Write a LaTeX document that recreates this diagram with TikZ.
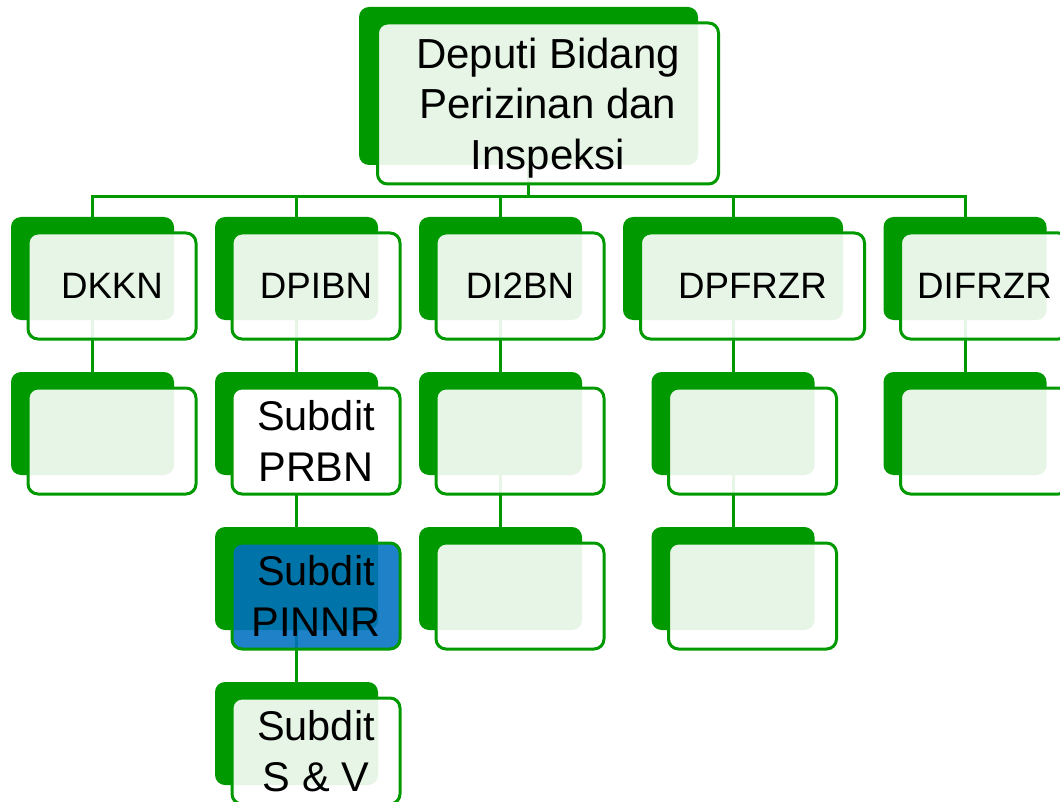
\documentclass[tikz,border=0pt]{standalone}
\usepackage{fontspec}
\setmainfont{Liberation Sans}
\usetikzlibrary{backgrounds}

\definecolor{orggreen}{RGB}{0,153,0}
\definecolor{orgblue}{RGB}{0,112,192}

\newcommand\lblTop{\fontsize{42}{50.5}\selectfont}
\newcommand\lblRow{\fontsize{36.7}{44}\selectfont}
\newcommand\lblSub{\fontsize{41.5}{50.5}\selectfont}

% one unit = solid back card + translucent front card carrying the label
% #1 back-card options, #2 front-card options, #3 name, (#4,#5) back centre, #6 label
\newcommand\orgunit[6]{%
  \node[backbox,#1] (#3-b) at (#4,#5) {};
  \path (#3-b.center) ++(19.5,17.5) node[frontbox,#2] (#3) {#6};
}

\tikzset{
  backbox/.style={rectangle, rounded corners=10pt, fill=orggreen,
    minimum width=163pt, minimum height=103pt, inner sep=0pt},
  frontbox/.style={rectangle, rounded corners=10pt, draw=orggreen,
    line width=3pt, fill=white, fill opacity=0.9, text opacity=1,
    minimum width=168pt, minimum height=106pt, inner sep=0pt,
    align=center, font=\lblSub},
  wideback/.style={minimum width=220pt},
  widefront/.style={minimum width=224pt, font=\lblRow},
  headback/.style={minimum width=339pt, minimum height=158pt},
  headfront/.style={minimum width=341pt, minimum height=161pt,
    font=\lblTop, text depth=0pt},
  rowlabel/.style={font=\lblRow},
  solidwhite/.style={fill=white, fill opacity=1},
  bluecard/.style={fill=orgblue, fill opacity=0.88},
  link/.style={draw=orggreen, line width=3pt},
}

\begin{document}
\begin{tikzpicture}[x=1pt, y=-1pt]
  \useasboundingbox (0,0) rectangle (1060,802);
  \clip (0,0) rectangle (1060,802);

  % head of the chart
  \orgunit{headback}{headfront}{head}{528.5}{86}{Deputi Bidang\\Perizinan dan\\Inspeksi}

  % directorates
  \orgunit{}{rowlabel}{dkkn}{92.5}{268.5}{DKKN}
  \orgunit{}{rowlabel}{dpibn}{296.5}{268.5}{DPIBN}
  \orgunit{}{rowlabel}{dibn}{500.5}{268.5}{DI2BN}
  \orgunit{wideback}{widefront}{dpfrzr}{733}{268.5}{DPFRZR}
  \orgunit{}{rowlabel}{difrzr}{965}{268.5}{DIFRZR}

  % sub-directorates
  \orgunit{}{}{dkknA}{92.5}{423.5}{}

  \orgunit{}{solidwhite}{prbn}{296.5}{423.5}{Subdit\\PRBN}
  \orgunit{}{bluecard}{pinnr}{296.5}{578.5}{Subdit\\PINNR}
  \orgunit{}{}{sv}{296.5}{733.5}{Subdit\\S \& V}

  \orgunit{}{}{dibnA}{500.5}{423.5}{}
  \orgunit{}{}{dibnB}{500.5}{578.5}{}

  \orgunit{}{}{dpfrzrA}{733}{423.5}{}
  \orgunit{}{}{dpfrzrB}{733}{578.5}{}

  \orgunit{}{}{difrzrA}{965}{423.5}{}

  \coordinate (bus) at (0,197);

  \begin{pgfonlayer}{background}
    % bus from the head to the directorates
    \draw[link] (head-b.south) -- (head-b.south |- bus);
    \draw[link] (dkkn-b.north) -- (dkkn-b.north |- bus)
                -- (difrzr-b.north |- bus) -- (difrzr-b.north);
    \draw[link] (dpibn-b.north) -- (dpibn-b.north |- bus);
    \draw[link] (dibn-b.north) -- (dibn-b.north |- bus);
    \draw[link] (dpfrzr-b.north) -- (dpfrzr-b.north |- bus);

    % vertical chains inside each column
    \draw[link] (dkkn-b.south) -- (dkknA-b.north);
    \draw[link] (dpibn-b.south) -- (prbn-b.north);
    \draw[link] (prbn-b.south) -- (pinnr-b.north);
    \draw[link] (pinnr-b.south) -- (sv-b.north);
    \draw[link] (dibn-b.south) -- (dibnA-b.north);
    \draw[link] (dibnA-b.south) -- (dibnB-b.north);
    \draw[link] (dpfrzr-b.south) -- (dpfrzrA-b.north);
    \draw[link] (dpfrzrA-b.south) -- (dpfrzrB-b.north);
    \draw[link] (difrzr-b.south) -- (difrzrA-b.north);
  \end{pgfonlayer}
\end{tikzpicture}
\end{document}
